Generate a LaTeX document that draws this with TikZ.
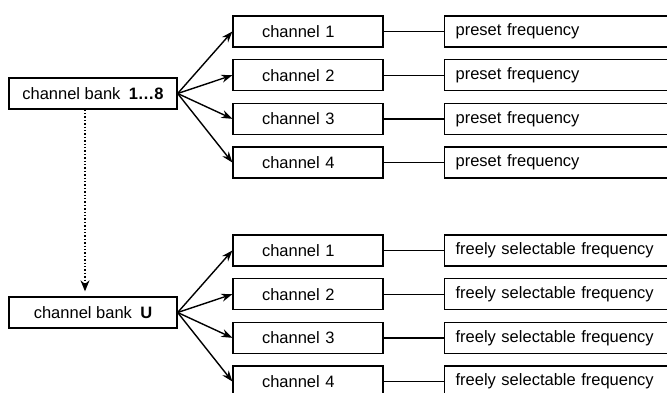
\documentclass[tikz,border=0pt]{standalone}
\usepackage{fontspec}
\setmainfont{Liberation Sans}
\usetikzlibrary{arrows.meta}

\begin{document}
\begin{tikzpicture}[x=1pt,y=-1pt,
		box/.style={draw,line width=1.3pt,minimum height=31pt,inner sep=0pt,
			font=\fontsize{16.5}{19}\selectfont},
		bankbox/.style={box,minimum width=168pt},
		chanbox/.style={box,text width=92pt,inner xsep=29pt,align=left},
		freqbox/.style={box,anchor=west,text width=218pt,inner xsep=11pt,align=left},
		arr/.style={line width=1.4pt,-{Stealth[length=11pt,width=8pt]}},
		link/.style={line width=1.4pt}]
		\useasboundingbox (0,0) rectangle (667,392);
		\clip (0,0) rectangle (667,392);
		% the two channel banks
		\node[bankbox] (bankA) at (93,93.5) {channel bank\enskip\textbf{1…8}};
		\node[bankbox] (bankU) at (93,312.5) {channel bank\enskip\textbf{U}};
		\draw[line width=1.4pt,dotted,-{Stealth[length=11pt,width=9pt]},shorten >=5pt]
			([xshift=-8pt]bankA.south) -- ([xshift=-8pt]bankU.north);
		% preset channels
		\foreach \i/\y in {1/31.5,2/75.2,3/118.8,4/162.5} {
			\node[chanbox] (a\i) at (308,\y) {channel \i};
			\node[freqbox] (fa\i) at (444,\y) {preset frequency};
			\draw[arr] (bankA.east) -- (a\i.west);
			\draw[link] (a\i) -- (fa\i);
		}
		% free channels
		\foreach \i/\y in {1/250.5,2/294.2,3/337.8,4/381.5} {
			\node[chanbox] (u\i) at (308,\y) {channel \i};
			\node[freqbox] (fu\i) at (444,\y) {freely selectable frequency};
			\draw[arr] (bankU.east) -- (u\i.west);
			\draw[link] (u\i) -- (fu\i);
		}
	\end{tikzpicture}
\end{document}
